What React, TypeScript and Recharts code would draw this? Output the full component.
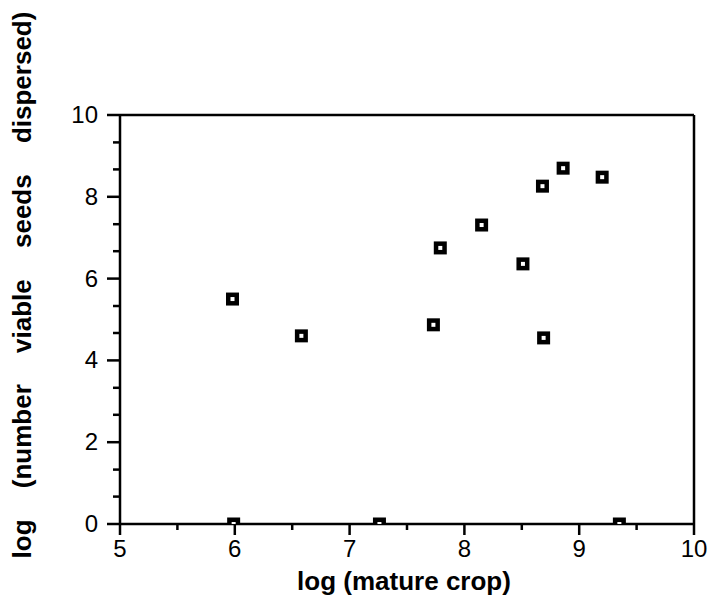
import React from "react";
import {
  ScatterChart,
  Scatter,
  XAxis,
  YAxis,
  ReferenceLine,
} from "recharts";

// log(mature crop) vs log(number viable seeds dispersed)
const matureCrop = [5.98, 6.58, 7.73, 7.79, 8.15, 8.51, 8.69, 8.68, 8.86, 9.2, 5.99, 7.26, 9.35];
const seedsDispersed = [5.5, 4.6, 4.87, 6.75, 7.31, 6.36, 4.55, 8.26, 8.7, 8.48, 0, 0, 0];

const xTicks = [5, 5.5, 6, 6.5, 7, 7.5, 8, 8.5, 9, 9.5, 10];
const xLabels = [5, 6, 7, 8, 9, 10];
const yTicks = [0, 0.67, 1.33, 2, 2.67, 3.33, 4, 4.67, 5.33, 6, 6.67, 7.33, 8, 8.67, 9.33, 10];
const yLabels = [0, 2, 4, 6, 8, 10];

const points = matureCrop.map((x, i) => ({ x, y: seedsDispersed[i] }));

const FONT = "'Liberation Sans', Arial, Helvetica, sans-serif";

function XTick(props: any) {
  const { x, y, payload } = props;
  const major = xLabels.includes(payload.value);
  return (
    <g>
      <line x1={x} y1={y} x2={x} y2={y + (major ? 11 : 6)} stroke="#000" strokeWidth={2.5} />
      {major && (
        <text x={x} y={y + 33} textAnchor="middle" fontSize={24} fontFamily={FONT} fill="#000">
          {payload.value}
        </text>
      )}
    </g>
  );
}

function YTick(props: any) {
  const { x, y, payload } = props;
  const major = yLabels.includes(payload.value);
  return (
    <g>
      <line x1={x} y1={y} x2={x - (major ? 13 : 7)} y2={y} stroke="#000" strokeWidth={2.5} />
      {major && (
        <text x={x - 22} y={y + 8} textAnchor="end" fontSize={24} fontFamily={FONT} fill="#000">
          {payload.value}
        </text>
      )}
    </g>
  );
}

function Marker(props: any) {
  const { cx, cy } = props;
  return (
    <g>
      <rect x={cx - 6.5} y={cy - 6.5} width={13} height={13} fill="#000" />
      <rect x={cx - 2} y={cy - 2} width={4} height={4} fill="#fff" />
    </g>
  );
}

export default function App() {
  return (
    <div style={{ position: "absolute", left: 0, top: 0, background: "#fff" }}>
      <ScatterChart
        width={709}
        height={614}
        margin={{ top: 115, right: 15, bottom: 30, left: 60 }}
      >
        <XAxis
          type="number"
          dataKey="x"
          domain={[5, 10]}
          ticks={xTicks}
          tick={<XTick />}
          tickLine={false}
          tickSize={0}
          tickMargin={0}
          height={60}
          axisLine={{ stroke: "#000", strokeWidth: 2.5 }}
          allowDataOverflow
          label={() => (
            <text
              x={404}
              y={590}
              textAnchor="middle"
              fontSize={26}
              fontWeight="bold"
              fontFamily={FONT}
              fill="#000"
            >
              log (mature crop)
            </text>
          )}
        />
        <YAxis
          type="number"
          dataKey="y"
          domain={[0, 10]}
          ticks={yTicks}
          tick={<YTick />}
          tickLine={false}
          tickSize={0}
          tickMargin={0}
          width={60}
          axisLine={{ stroke: "#000", strokeWidth: 2.5 }}
          allowDataOverflow
          label={() => (
            <text
              x={0}
              y={0}
              transform="translate(31 285) rotate(-90)"
              textAnchor="middle"
              fontSize={26}
              fontWeight="bold"
              fontFamily={FONT}
              wordSpacing={24}
              fill="#000"
            >
              log (number viable seeds dispersed)
            </text>
          )}
        />
        <ReferenceLine y={10} stroke="#000" strokeWidth={2.5} />
        <ReferenceLine x={10} stroke="#000" strokeWidth={2.5} />
        <Scatter data={points} shape={<Marker />} isAnimationActive={false} />
      </ScatterChart>
    </div>
  );
}
